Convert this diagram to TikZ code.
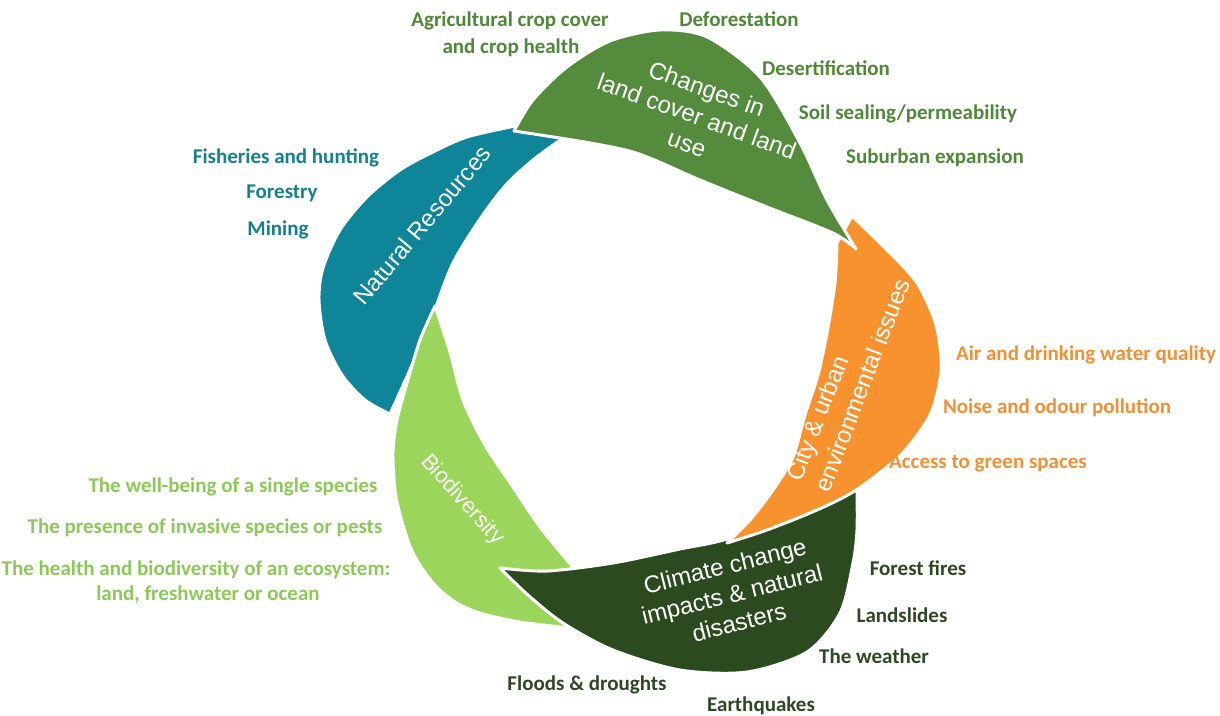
\documentclass[tikz,border=0pt]{standalone}
\usepackage{fontspec}
\setmainfont{Carlito}
\newfontfamily\arialf{Liberation Sans}
\definecolor{cgreen}{HTML}{548B3C}
\definecolor{cteal}{HTML}{0E8599}
\definecolor{corange}{HTML}{F7922F}
\definecolor{clight}{HTML}{9CD55B}
\definecolor{cdark}{HTML}{2C4A1F}
\definecolor{tgreen}{HTML}{4E8838}
\definecolor{tteal}{HTML}{15808F}
\definecolor{torange}{HTML}{F09036}
\definecolor{tlight}{HTML}{8DC85A}
\definecolor{tdark}{HTML}{2E4824}
\tikzset{
  petal/.style={fill=#1, draw=white, line width=3pt, line join=round},
  lab/.style={anchor=base, inner sep=0pt, font=\bfseries\fontsize{21}{25}\selectfont, text=#1},
  ptext/.style={text=white, font=\arialf\fontsize{24}{29}\selectfont, inner sep=0pt}
}
\begin{document}
\begin{tikzpicture}[x=1pt,y=-1pt]
\useasboundingbox (0,0) rectangle (1220,715);
% teal
\path[petal=cteal] plot[smooth] coordinates {(515,126) (467,137) (433,152) (400,170) (367,197) (340,230) (323,268) (319,300) (325,340) (342,375) (365,400) (390,414)}
  -- plot[smooth] coordinates {(390,414) (409,372) (431,320) (452,265) (478,222) (505,186) (533,160) (563,138)} -- cycle;
% light green
\path[petal=clight] plot[smooth] coordinates {(435,306) (420,340) (407,383) (397,420) (393,452) (395,490) (401,518) (413,553) (433,583) (455,602) (480,613) (520,622) (570,628)}
  -- (572,566) -- plot[smooth] coordinates {(572,566) (540,527) (513,487) (485,445) (463,400) (450,352) (435,306)} -- cycle;
% dark green
\path[petal=cdark] plot[smooth] coordinates {(500,568) (547,571) (613,563) (680,549) (727,539) (790,514) (857,490)}
  -- plot[smooth] coordinates {(857,490) (857,530) (853,563) (840,613) (807,652) (747,672) (680,670) (613,650) (563,623) (528,595) (500,568)} -- cycle;
% orange
\path[petal=corange] plot[smooth] coordinates {(852,216) (887,250) (917,283) (936,325) (941,370) (931,413) (908,447) (887,467) (853,492) (817,510) (767,530) (727,543)}
  -- plot[smooth] coordinates {(727,543) (750,520) (773,490) (793,457) (805,415) (818,375) (827,333) (835,283) (837,243)} -- cycle;
% green
\path[petal=cgreen] plot[smooth] coordinates {(514,131) (533,100) (567,67) (610,41) (660,30) (707,37) (760,77) (800,143) (827,200) (856,249)}
  -- plot[smooth] coordinates {(856,249) (833,233) (767,207) (700,180) (633,152) (560,138)} -- cycle;

% petal texts
\node[ptext, rotate=-20, align=center] (tchg) at (697,116) {Changes in\\land cover and land\\use};
\node[ptext, rotate=50] (tnat) at (422,225) {Natural Resources};
\node[ptext, rotate=69, align=left, font=\arialf\fontsize{24}{30}\selectfont] (tcity) at (848,380) {City \& urban\\environmental issues};
\node[ptext, rotate=-48, font=\arialf\fontsize{22}{26}\selectfont] (tbio) at (462,500) {Biodiversity};
\node[ptext, rotate=14, align=center] (tclim) at (732,594) {Climate change\\impacts \& natural\\disasters};

% green labels
\node[lab=tgreen] (l1) at (510,26) {Agricultural crop cover};
\node[lab=tgreen] (l2) at (511,53) {and crop health};
\node[lab=tgreen] (l3) at (739,26) {Deforestation};
\node[lab=tgreen] (l4) at (826,75) {Desertification};
\node[lab=tgreen] (l5) at (908,119) {Soil sealing/permeability};
\node[lab=tgreen] (l6) at (935,163) {Suburban expansion};
% teal labels
\node[lab=tteal] (n1) at (286,163) {Fisheries and hunting};
\node[lab=tteal] (n2) at (282,198) {Forestry};
\node[lab=tteal] (n3) at (278,235) {Mining};
% orange labels
\node[lab=torange] (o1) at (1086,360) {Air and drinking water quality};
\node[lab=torange] (o2) at (1057,413) {Noise and odour pollution};
\node[lab=torange] (o3) at (988,468) {Access to green spaces};
% light green labels
\node[lab=tlight] (b1) at (233,492) {The well-being of a single species};
\node[lab=tlight] (b2) at (205,533) {The presence of invasive species or pests};
\node[lab=tlight] (b3) at (196,575) {The health and biodiversity of an ecosystem:};
\node[lab=tlight] (b4) at (208,600) {land, freshwater or ocean};
% dark green labels
\node[lab=tdark] (d1) at (918,575) {Forest fires};
\node[lab=tdark] (d2) at (902,622) {Landslides};
\node[lab=tdark] (d3) at (874,663) {The weather};
\node[lab=tdark] (d4) at (587,690) {Floods \& droughts};
\node[lab=tdark] (d5) at (761,711) {Earthquakes};
\end{tikzpicture}
\end{document}
